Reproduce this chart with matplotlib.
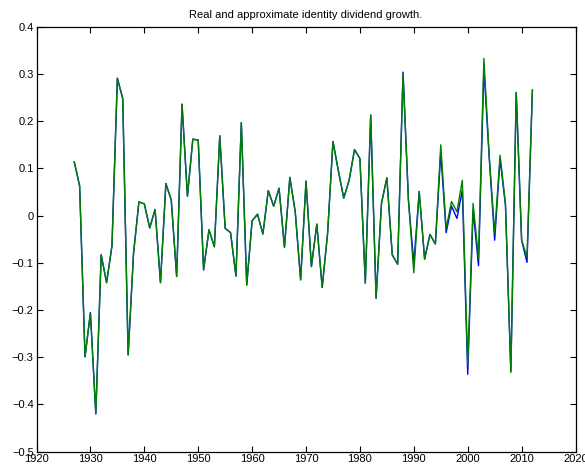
import matplotlib
matplotlib.use("Agg")
import matplotlib.pyplot as plt
import numpy as np

plt.rcParams['font.family'] = ['Liberation Sans', 'DejaVu Sans']

years = list(range(1927, 2013))

# Real dividend growth (blue)
real_growth = [
    0.114, 0.063, -0.299, -0.205, -0.420, -0.083, -0.142, -0.064, 0.291, 0.248,   # 1927-1936
    -0.295, -0.080, 0.029, 0.025, -0.026, 0.013, -0.142, 0.068, 0.033, -0.129,    # 1937-1946
    0.236, 0.041, 0.162, 0.160, -0.115, -0.030, -0.066, 0.169, -0.027, -0.036,    # 1947-1956
    -0.128, 0.197, -0.147, -0.011, 0.003, -0.039, 0.053, 0.020, 0.058, -0.067,    # 1957-1966
    0.081, 0.008, -0.136, 0.073, -0.108, -0.018, -0.152, -0.038, 0.157, 0.095,    # 1967-1976
    0.037, 0.075, 0.140, 0.121, -0.143, 0.213, -0.175, 0.026, 0.080, -0.083,     # 1977-1986
    -0.103, 0.304, 0.033, -0.101, 0.051, -0.092, -0.040, -0.060, 0.133, -0.036,   # 1987-1996
    0.020, -0.006, 0.054, -0.336, 0.012, -0.106, 0.312, 0.120, -0.052, 0.120,     # 1997-2006
    0.022, -0.330, 0.261, -0.052, -0.099, 0.266,                                  # 2007-2012
]

# Approximate identity dividend growth (green)
approx_growth = [
    0.114, 0.063, -0.299, -0.207, -0.420, -0.083, -0.142, -0.064, 0.291, 0.248,
    -0.295, -0.080, 0.029, 0.025, -0.026, 0.013, -0.142, 0.068, 0.033, -0.129,
    0.236, 0.041, 0.162, 0.160, -0.115, -0.030, -0.066, 0.169, -0.027, -0.036,
    -0.128, 0.197, -0.147, -0.011, 0.003, -0.039, 0.053, 0.020, 0.058, -0.067,
    0.081, 0.008, -0.136, 0.073, -0.108, -0.018, -0.152, -0.038, 0.157, 0.095,
    0.037, 0.075, 0.140, 0.121, -0.143, 0.213, -0.175, 0.026, 0.080, -0.083,
    -0.103, 0.301, 0.033, -0.121, 0.051, -0.092, -0.040, -0.060, 0.150, -0.027,
    0.030, 0.008, 0.075, -0.316, 0.026, -0.090, 0.333, 0.125, -0.037, 0.128,
    0.026, -0.332, 0.261, -0.052, -0.087, 0.266,
]

xticks = [1920, 1930, 1940, 1950, 1960, 1970, 1980, 1990, 2000, 2010, 2020]
yticks = [-0.5, -0.4, -0.3, -0.2, -0.1, 0, 0.1, 0.2, 0.3, 0.4]
ytick_labels = ['\u22120.5', '\u22120.4', '\u22120.3', '\u22120.2', '\u22120.1',
                '0', '0.1', '0.2', '0.3', '0.4']
title = "Real and approximate identity dividend growth."

fig = plt.figure(figsize=(5.85, 4.70), dpi=100)
ax = fig.add_axes([0.0624, 0.039, 0.9214, 0.904])

ax.plot(years, real_growth, color='#0000ff', linewidth=1.0)
ax.plot(years, approx_growth, color='#008000', linewidth=1.0)

ax.set_xlim(1920, 2020)
ax.set_ylim(-0.5, 0.4)
ax.set_xticks(xticks)
ax.set_xticklabels([str(t) for t in xticks])
ax.set_yticks(yticks)
ax.set_yticklabels(ytick_labels)
ax.tick_params(direction='in', top=True, right=True, length=4, width=0.8,
               labelsize=8, pad=2)
for s in ax.spines.values():
    s.set_linewidth(0.9)
ax.set_title(title, fontsize=8, pad=6)

fig.savefig("out.png", dpi=100)
